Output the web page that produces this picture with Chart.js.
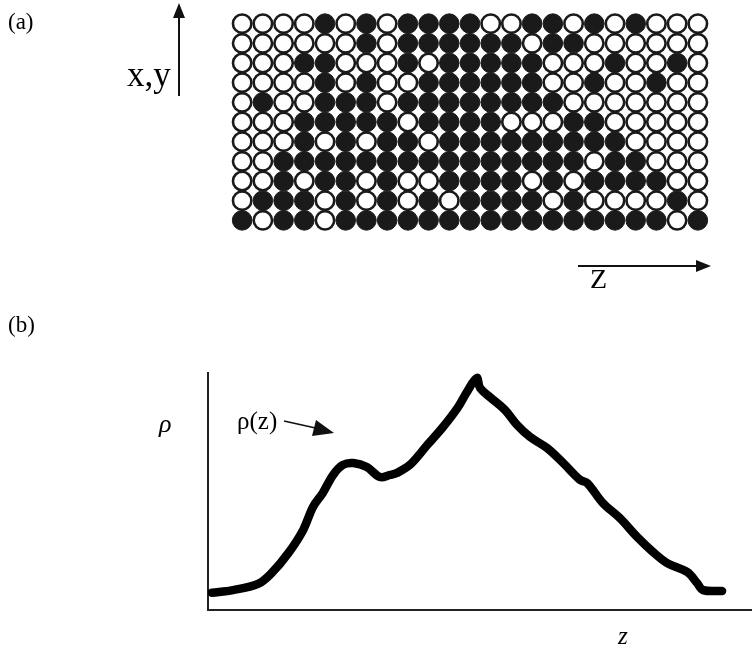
<!DOCTYPE html>
<html>
<head>
<meta charset="utf-8">
<script src="https://cdn.jsdelivr.net/npm/chart.js@4"></script>
<style>
  body { margin: 0; background: #fff; }
  #page { position: relative; width: 752px; height: 651px; overflow: hidden; font-family: "Liberation Serif", "DejaVu Serif", serif; color: #000; }
  canvas { position: absolute; }
  .lbl { position: absolute; white-space: nowrap; line-height: 1; }
  svg { position: absolute; left: 0; top: 0; }
</style>
</head>
<body>
<div id="page">
  <canvas id="gridChart" width="500" height="240" style="left:220px; top:2px;"></canvas>
  <canvas id="rhoChart" width="752" height="311" style="left:0px; top:340px;"></canvas>

  <svg width="752" height="651">
    <!-- flecha x,y -->
    <line x1="179" y1="96" x2="179" y2="16" stroke="#111" stroke-width="2"/>
    <polygon points="179,3 173,18 185,18" fill="#111"/>
    <!-- flecha z -->
    <line x1="578" y1="266" x2="698" y2="266" stroke="#111" stroke-width="2"/>
    <polygon points="711,266 696,260 696,272" fill="#111"/>
    <!-- flecha rho(z) -->
    <line x1="284" y1="421" x2="320" y2="429" stroke="#111" stroke-width="1.5"/>
    <polygon points="334,433 316,420 312,436" fill="#111"/>
  </svg>

  <div class="lbl" style="left:8px; top:10px; font-size:23px;">(a)</div>
  <div class="lbl" style="left:127px; top:57px; font-size:35px;">x,y</div>
  <div class="lbl" style="left:590px; top:265px; font-size:28px;">Z</div>
  <div class="lbl" style="left:8px; top:313px; font-size:23px;">(b)</div>
  <div class="lbl" style="left:159px; top:411px; font-size:26px; font-style:italic;">ρ</div>
  <div class="lbl" style="left:237px; top:408px; font-size:25px;">ρ(z)</div>
  <div class="lbl" style="left:618px; top:623px; font-size:25px; font-style:italic;">z</div>
</div>

<script>
// (a) filas de la red: 1 = ocupado (negro), 0 = vacío
var filas = [
  "00001010111100110101000",
  "00000010111111011000000",
  "00011000101111100010010",
  "00001010011111100100100",
  "01001110111111110000000",
  "00011111011110001100000",
  "00010101101111111110000",
  "00111111111111111011000",
  "00101101001111010111100",
  "01110101010111101000010",
  "10110111111111111111101"
];

// (b) perfil de densidad rho(z)
var zValores = [0.7, 4.6, 9.2, 11.7, 14.8, 17.5, 19.3, 21.1, 23.0, 24.8, 26.7, 29.2, 31.6, 33.5, 34.7,
  37.1, 40.3, 43.2, 46.0, 47.6, 49.4, 50.0, 51.8, 54.6, 56.8, 59.2, 62.3, 65.3, 68.4, 69.7,
  72.6, 75.7, 78.9, 81.8, 84.4, 88.1, 89.9, 91.0, 94.5];
var rhoValores = [7.3, 8.4, 11.0, 15.6, 24.1, 33.8, 43.5, 49.4, 57.0, 61.2, 62.0, 60.3, 56.1, 57.0, 57.8,
  61.2, 69.6, 77.2, 85.7, 92.0, 97.9, 93.7, 89.9, 84.4, 78.1, 73.0, 68.4, 62.0, 54.9, 53.6,
  45.1, 38.8, 30.8, 24.5, 19.8, 16.0, 11.4, 8.4, 8.0];

// Construir los puntos de la red
var llenos = [];
var vacios = [];
filas.forEach(function (fila, y) {
    fila.split('').forEach(function (c, x) {
        if (c === '1') {
            llenos.push({ x: x, y: y });
        } else {
            vacios.push({ x: x, y: y });
        }
    });
});

new Chart(document.getElementById('gridChart').getContext('2d'), {
    type: 'scatter',
    data: {
        datasets: [{
            label: 'vacío',
            data: vacios,
            pointRadius: 9.2,
            pointBorderWidth: 2.6,
            backgroundColor: '#ffffff',
            borderColor: '#1a1a1a',
            clip: false
        }, {
            label: 'ocupado',
            data: llenos,
            pointRadius: 9.8,
            pointBorderWidth: 1,
            backgroundColor: '#1a1a1a',
            borderColor: '#1a1a1a',
            clip: false
        }]
    },
    options: {
        responsive: false,
        animation: false,
        devicePixelRatio: 1,
        layout: { padding: 0 },
        plugins: { legend: { display: false }, tooltip: { enabled: false } },
        scales: {
            x: { type: 'linear', min: -0.5, max: 22.5, display: false },
            y: { type: 'linear', min: -0.5, max: 10.5, reverse: true, display: false }
        }
    }
});

var perfil = zValores.map(function (z, i) {
    return { x: z, y: rhoValores[i] };
});

var ejeVisible = {
    type: 'linear',
    min: 0,
    max: 100,
    grid: { display: false, drawTicks: false },
    ticks: { display: false },
    border: { display: true, color: '#222', width: 2 }
};

new Chart(document.getElementById('rhoChart').getContext('2d'), {
    type: 'line',
    data: {
        datasets: [{
            label: 'ρ(z)',
            data: perfil,
            borderColor: '#000',
            borderWidth: 8.5,
            pointRadius: 0,
            tension: 0.35,
            fill: false,
            borderCapStyle: 'round',
            borderJoinStyle: 'round'
        }]
    },
    options: {
        responsive: false,
        animation: false,
        devicePixelRatio: 1,
        layout: { padding: { left: 208, top: 33, right: 0, bottom: 41 } },
        plugins: { legend: { display: false }, tooltip: { enabled: false } },
        scales: {
            x: Object.assign({}, ejeVisible),
            y: Object.assign({}, ejeVisible)
        }
    }
});
</script>
</body>
</html>
